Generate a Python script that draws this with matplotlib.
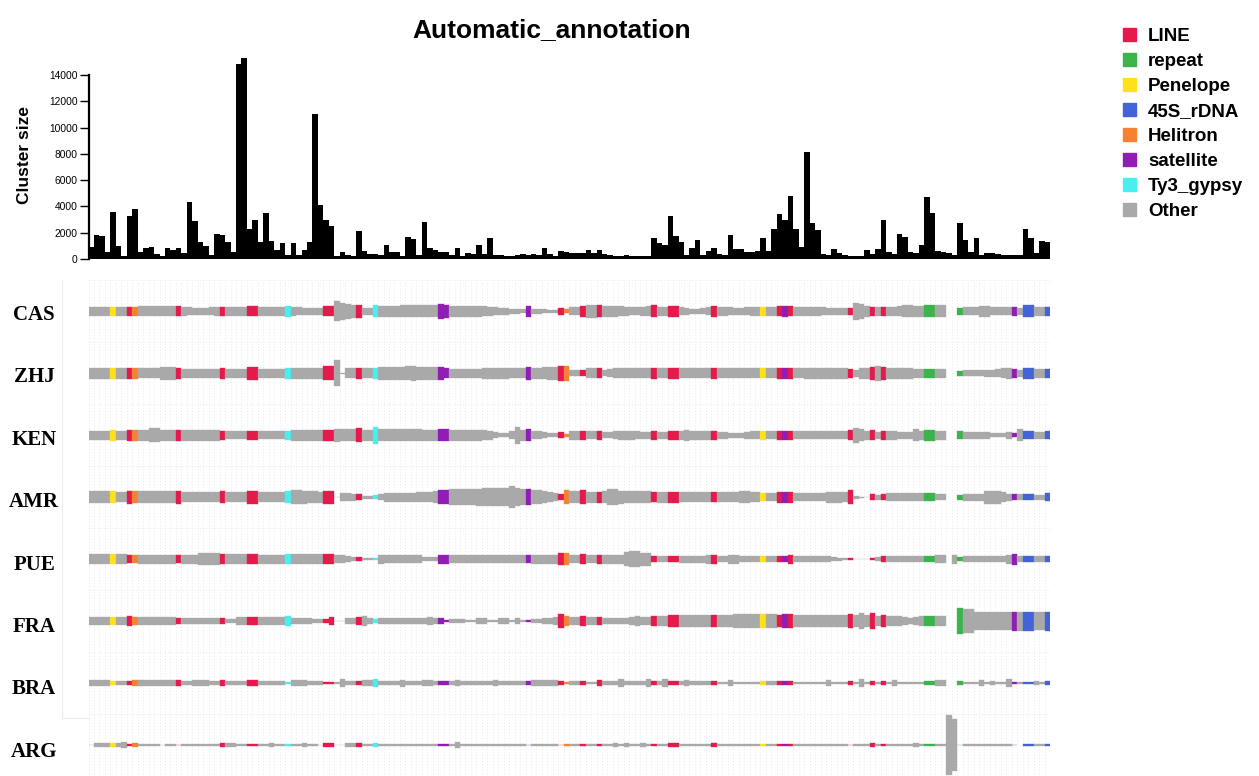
import numpy as np
import matplotlib
matplotlib.use("Agg")
import matplotlib.pyplot as plt
from matplotlib.patches import Rectangle
from matplotlib.lines import Line2D
from matplotlib import font_manager

plt.rcParams["font.family"] = ["Liberation Sans", "DejaVu Sans"]

# Cluster size (top bar chart), one value per cluster
cluster_size = [
    900, 1850, 1750, 500, 3600, 1000, 250, 3300, 3800, 500,
    850, 950, 350, 250, 800, 700, 800, 450, 4300, 2900,
    1300, 1000, 300, 1900, 1800, 1300, 550, 14800, 15300, 2300,
    3000, 1300, 3500, 1400, 700, 1200, 300, 1200, 300, 700,
    1300, 11000, 4100, 3000, 2500, 250, 550, 300, 250, 2100,
    600, 400, 400, 300, 1100, 550, 550, 250, 1700, 1500,
    300, 2800, 800, 680, 530, 530, 330, 800, 250, 430,
    400, 1060, 380, 1620, 300, 300, 230, 230, 280, 355,
    300, 400, 280, 810, 350, 250, 580, 500, 450, 450,
    450, 660, 480, 710, 400, 280, 250, 250, 280, 250,
    250, 250, 250, 1600, 1220, 1040, 3270, 1720, 1270, 300,
    810, 1420, 280, 630, 840, 380, 300, 1830, 735, 735,
    560, 530, 630, 1620, 610, 2300, 3400, 2970, 4790, 2300,
    910, 8140, 2760, 2230, 355, 280, 790, 450, 300, 250,
    250, 250, 710, 380, 790, 2970, 500, 355, 1880, 1700,
    500, 480, 1090, 4720, 3530, 630, 560, 430, 300, 2740,
    1450, 530, 1570, 300, 450, 450, 400, 280, 280, 280,
    330, 2280, 1600, 480, 1340, 1290,
]

# annotation of clusters (everything not listed is "Other")
annot_cols = {
    "LINE": [7, 16, 24, 29, 30, 43, 44, 49, 86, 90, 93, 103, 106, 107, 114,
             126, 128, 139, 143, 145],
    "repeat": [153, 154, 159],
    "Penelope": [4, 123],
    "45S_rDNA": [171, 172, 175],
    "Helitron": [8, 87],
    "satellite": [64, 65, 80, 127, 169],
    "Ty3_gypsy": [36, 52],
}
class_colors = {
    "LINE": "#E6194B", "repeat": "#3CB44B", "Penelope": "#FFE119",
    "45S_rDNA": "#4363D8", "Helitron": "#F58231", "satellite": "#911EB4",
    "Ty3_gypsy": "#46F0F0", "Other": "#A9A9A9",
}

# relative abundance of each cluster per population (track thickness)
CAS = [
    9.5, 9.5, 9.5, 9.5, 9.5, 9.5, 9.5, 9.5, 9.5, 10,
    10, 10, 10, 10, 10, 10, 10, 9, 8, 7.5,
    7.5, 7.5, 8, 9, 9.5, 9.5, 9.5, 9.5, 9.5, 10,
    10, 9.5, 9.5, 9.5, 9.5, 9.5, 10.7, 9, 8, 7.5,
    7, 6.7, 7, 10, 10, 20, 17, 15, 12.7, 13,
    7, 7, 12, 10.7, 10.7, 11, 11.5, 12, 12, 12,
    12, 12, 12, 12, 14.7, 13.3, 11, 11, 11, 11,
    11, 11, 10, 9, 8, 7, 6.7, 5.5, 4.5, 4,
    10.7, 5, 4.5, 4, 3.5, 3.3, 6.7, 4, 8, 8,
    10.7, 13, 13, 12, 10.7, 10.7, 10.7, 10, 9, 8,
    8, 9, 10, 12, 9.5, 9.5, 10.7, 10.7, 8, 7,
    5.3, 5.3, 6, 8, 10.7, 9.5, 9, 8, 7, 7,
    8, 9, 9.5, 9.5, 9.5, 9.5, 10, 10.7, 10, 9.5,
    9.5, 9.5, 9.5, 9, 8, 7, 6.7, 6.7, 6.7, 6.7,
    17, 15, 10.7, 9.5, 9.5, 9.5, 9.5, 9.5, 10, 12,
    12, 10.7, 10.7, 12, 12, 12, 12, 0, 0, 6.7,
    8, 8, 8, 10.7, 10.7, 8, 8, 8, 8, 9.5,
    6.7, 12.5, 12, 9.5, 9.5, 9.5,
]
ZHJ = [
    10.7, 10.7, 10.7, 10.7, 10.7, 10.7, 10.7, 10.7, 10.7, 10,
    10, 10, 10, 12.7, 12.7, 12.7, 11, 9.3, 9.3, 9.3,
    9.3, 9.3, 9.3, 9.3, 10.7, 9.3, 9.3, 9.3, 9.3, 12.7,
    12.7, 9.3, 9.3, 9.3, 9.3, 9.3, 10.7, 11, 11, 11,
    11, 11, 11, 14, 14, 26, 0.6, 10, 10, 11,
    10, 10, 10.7, 12.7, 12.7, 12.7, 12.7, 12.7, 14, 15,
    13, 12.7, 12.7, 12.7, 12.7, 10, 8.7, 8.7, 8.7, 8.7,
    8.7, 8.7, 11, 11, 11, 11, 11, 10, 10, 10,
    12.7, 11, 11, 12, 13, 13, 15, 15, 6, 6,
    6, 10, 10, 10, 6, 8, 10, 10, 10, 10,
    10, 10, 10, 11, 10, 10, 11, 11, 10, 10,
    10, 10, 10, 10, 11, 10, 10, 10, 10, 10,
    10, 10, 10, 10, 10, 10, 11, 11, 11, 10,
    10, 11, 11, 11, 11, 11, 11, 11, 11, 8.7,
    7.3, 11, 11, 12.7, 14.7, 12.7, 11, 11, 11, 11,
    11, 8.7, 8.7, 8.7, 8.7, 8.7, 8.7, 0, 0, 4.7,
    6, 6, 6, 6, 6.7, 7.3, 8, 10, 10.7, 8.7,
    7.3, 11, 11, 8.7, 8.7, 8.7,
]
KEN = [
    9.2, 9.2, 9.2, 9.2, 10.7, 9.2, 9.2, 10.7, 10.7, 10.7,
    10.7, 13.8, 13.8, 10.7, 10.7, 10.7, 10.7, 10.7, 10.7, 10.7,
    10.7, 10.7, 10.7, 10.7, 9.2, 7.7, 7.7, 7.7, 7.7, 9.2,
    9.2, 7.7, 7.7, 7.7, 7.7, 7.7, 9.2, 10.7, 10.7, 10.7,
    10.7, 10.7, 10.7, 10.7, 10.7, 13, 12.2, 12.2, 12.2, 13.8,
    10.7, 10.7, 16.8, 12.2, 12.2, 12.2, 12.2, 12.2, 12.2, 12.2,
    12.2, 10.7, 10.7, 10.7, 11.5, 11.5, 10.7, 10.7, 10.7, 10.7,
    10.7, 10.7, 10, 9, 6, 4.6, 4.6, 8, 16.8, 10.7,
    12.2, 7.7, 7.7, 6, 4.6, 4.6, 6, 3, 9.2, 9.2,
    9.2, 7.7, 7.7, 9.2, 6, 6, 8, 9.2, 9.2, 9.2,
    8, 6.7, 6.7, 9.3, 6.7, 6.7, 9.3, 9.3, 9.3, 10.7,
    9.3, 9.3, 9.3, 9.3, 9.3, 6.7, 6.7, 5.3, 5.3, 5.3,
    6.7, 8, 8, 9.3, 8, 8, 9.3, 9.3, 9.3, 8,
    8, 8, 8, 8, 8, 8, 8, 8, 8, 10,
    14.7, 12, 9.3, 10, 6.7, 9.3, 9.3, 9.3, 6.7, 6.7,
    6.7, 12, 9.3, 10.7, 10.7, 8.7, 8.7, 0, 0, 8,
    6.7, 6.7, 6.7, 6.7, 6.7, 4, 4, 4, 6.7, 4,
    12, 8, 8, 6.7, 6.7, 8,
]
AMR = [
    11.5, 11.5, 11.5, 11.5, 11.5, 10, 10, 13, 11.5, 11.5,
    11.5, 11.5, 11.5, 11.5, 11.5, 11.5, 13, 10, 10, 10,
    10, 10, 10, 10, 11.5, 10, 10, 10, 10, 13,
    13, 10, 10, 10, 10, 10, 11.5, 13.8, 13.8, 13,
    12, 11.5, 11, 13, 13, 0.6, 8.4, 8.4, 7, 6.1,
    3, 3, 4.6, 6, 9.2, 9.2, 9.2, 9.2, 9.2, 9.2,
    10, 10, 10.7, 11.5, 13.8, 13.8, 16, 16, 16, 16,
    16, 16.8, 17.6, 17.6, 17.6, 17.6, 18, 22, 18, 16,
    16, 13.8, 13.8, 12, 10, 8.4, 6, 13.8, 11.5, 11.5,
    13.8, 11, 11, 11, 11.5, 16, 16, 13, 11.5, 11.5,
    11.5, 11.5, 11.5, 10, 11.3, 11.3, 11.3, 11.3, 10, 10,
    10, 10, 10, 10, 10, 10, 10, 10, 10, 12.7,
    12.7, 10, 10, 8, 8.7, 8.7, 11.3, 11.3, 11.3, 8.7,
    8.7, 8.7, 8.7, 8.7, 8.7, 11.3, 11.3, 11.3, 10, 14,
    3, 1, 0.6, 6, 4.7, 6.7, 8, 8, 8, 8,
    8, 8, 8, 8, 8, 6, 6, 0, 0, 4.7,
    7.3, 7.3, 7.3, 7.3, 13.3, 13.3, 13.3, 10, 7.3, 6,
    6, 6, 6, 4.7, 4.7, 8.7,
]
PUE = [
    10.7, 10.7, 10.7, 10.7, 10.7, 10.7, 10.7, 7.7, 7.7, 9.2,
    9.2, 9.2, 9.2, 9.2, 9.2, 9.2, 7.7, 9.2, 9.2, 9.2,
    11.5, 11.5, 11.5, 11.5, 10.7, 10.7, 10.7, 10.7, 10.7, 10.7,
    10.7, 9.2, 9.2, 9.2, 9.2, 9.2, 10.7, 10.7, 10.7, 10.7,
    10.7, 10.7, 10.7, 10.7, 10.7, 7.7, 7.7, 6, 4.6, 4.6,
    1.5, 1.5, 1.5, 9.2, 7.7, 7.7, 7.7, 7.7, 7.7, 7.7,
    7.7, 4.6, 4.6, 4.6, 9.2, 9.2, 7.7, 7.7, 8.5, 8.5,
    7.7, 7.7, 7.7, 8.5, 8.5, 7.7, 7.7, 7.7, 8.5, 7.7,
    7.7, 9.2, 9.2, 9.2, 9.2, 9.2, 11.5, 11.5, 7.7, 7.7,
    10.7, 7.7, 7.7, 9.2, 9.2, 9.2, 9.2, 9.2, 14, 16.8,
    16.8, 13.3, 13.3, 6.7, 5.3, 5.3, 6.7, 6.7, 7.3, 7.3,
    7.3, 7.3, 7.3, 9.3, 9.3, 6.7, 6.7, 9.3, 9.3, 6.7,
    6.7, 6.7, 6.7, 6.7, 6.7, 6.7, 6.7, 6.7, 9.3, 6.7,
    6.7, 6.7, 6.7, 6.7, 6, 5.3, 4, 3, 2.7, 2.7,
    0.6, 0.6, 0.6, 2.7, 4, 6.7, 6.7, 6.7, 6.7, 6.7,
    6.7, 6.7, 6.7, 6.7, 6.7, 8, 8, 0, 9.3, 4,
    5.3, 5.3, 5.3, 5.3, 5.3, 5.3, 5.3, 5.3, 9.3, 11.3,
    5.3, 5.3, 5.3, 5.3, 5.3, 6.7,
]
FRA = [
    7.3, 7.3, 7.3, 7.3, 7.3, 7.3, 7.3, 10, 7.3, 7.3,
    7.3, 7.3, 7.3, 7.3, 7.3, 7.3, 6, 6, 6, 6,
    6, 6, 6, 6, 6, 4.7, 4.7, 8, 8, 8.7,
    8.7, 7.3, 7.3, 7.3, 7.3, 7.3, 10, 6, 6, 6,
    5.3, 4.7, 4.7, 4.7, 8.7, 0.6, 0.6, 5.3, 5.3, 8.7,
    10, 5.3, 4.7, 5.3, 5.3, 5.3, 5.3, 5.3, 5.3, 5.3,
    5.3, 5.3, 8.7, 5.3, 6, 1.3, 4, 4, 4, 2.7,
    2.7, 6.7, 6.7, 2.7, 2.7, 6.7, 6.7, 2.7, 5.3, 1.3,
    1.3, 4, 4, 5.3, 6.7, 8, 14, 10, 8, 8,
    10, 8, 8, 8.7, 6.7, 6.7, 6.7, 6.7, 6.7, 8,
    10.7, 8, 8, 10, 10, 10, 12, 12, 11.3, 11.3,
    11.3, 11.3, 11.3, 11.3, 12, 12.7, 12.7, 12.7, 13.3, 13.3,
    14, 14.7, 14.7, 13.3, 13.3, 13.3, 12, 13.3, 14.7, 12,
    12, 11.3, 11.3, 11.3, 11.3, 11.3, 11.3, 11.3, 11.3, 13.3,
    11.3, 16, 11.3, 16, 10, 12, 10.7, 10.7, 9.3, 8,
    6.7, 8, 10, 10, 10, 9.3, 9.3, 0, 0, 27,
    24.7, 24.7, 18.7, 18.7, 18.7, 18.7, 18.7, 18.7, 18.7, 19.3,
    19.3, 19.3, 19.3, 18, 18, 19.3,
]
BRA = [
    5.3, 5.3, 5.3, 5.3, 4.7, 4, 4, 4, 5.3, 5.3,
    5.3, 5.3, 5.3, 5.3, 5.3, 5.3, 5.3, 4, 4, 5.3,
    5.3, 5.3, 4, 4, 5.3, 4, 4, 4, 4, 5.3,
    5.3, 4, 4, 4, 4, 4, 2.7, 5.3, 5.3, 5.3,
    4, 4, 4, 2.7, 2.7, 2.7, 8, 4, 4, 4,
    5.3, 5.3, 8, 4, 4, 4, 4, 7, 4, 4,
    4, 6.7, 6.7, 4, 3.3, 3.3, 4, 6, 4, 4,
    4, 4, 4, 4, 5.3, 4, 4, 4, 4, 4,
    4.7, 5.3, 5.3, 6.7, 5.3, 6.7, 3.3, 2.7, 4, 4,
    4.7, 2.7, 2.7, 6, 4, 4, 4, 7.3, 4, 4,
    4, 4, 7.3, 3.3, 4, 7.3, 4.7, 4.7, 4, 6,
    4, 4, 4, 4, 3.3, 2.7, 2.7, 5.3, 2.7, 2.7,
    2.7, 2.7, 2.7, 4.7, 3.3, 3.3, 3.3, 4.7, 3.3, 2.7,
    2.7, 2.7, 2.7, 2.7, 2.7, 6.7, 2.7, 2.7, 2.7, 4.7,
    2.7, 7.3, 2.7, 4.7, 2.7, 4.7, 2.7, 6, 2.7, 2.7,
    2.7, 2.7, 2.7, 3.3, 3.3, 6, 6, 0, 0, 3.3,
    2, 2, 2, 6, 2, 3.3, 2, 2, 7.3, 2,
    2, 2, 2, 4.7, 2, 3.3,
]
ARG = [
    0.7, 3.3, 3.3, 3.3, 3.3, 3.3, 6, 2, 3.3, 2,
    2, 2, 2, 0.6, 2, 2, 0.7, 2, 2, 2,
    2, 2, 2, 2, 3.3, 3.3, 3.3, 2, 2, 2,
    2, 2, 2, 3.3, 2, 2, 2, 2, 2, 3.3,
    2, 2, 0.6, 3.3, 3.3, 0.6, 0.6, 3.3, 3.3, 3.3,
    2, 2, 3.3, 2, 2, 2, 2, 2, 2, 2,
    2, 2, 2, 2, 2, 2, 2, 6, 2, 2,
    2, 2, 2, 2, 2, 2, 2, 2, 2, 2,
    0.7, 2, 2, 2, 2, 2, 0.7, 2, 2, 2,
    2, 2, 2, 2, 2, 2, 3.3, 2, 3.3, 2,
    2, 4.7, 2, 2, 2, 2, 3.3, 3.3, 2, 2,
    2, 2, 2, 2, 3.3, 2, 2, 2, 2, 2,
    2, 2, 2, 2, 2, 2, 2, 2, 2, 2,
    2, 2, 2, 2, 2, 2, 2, 2, 2, 0.7,
    2, 2, 2, 3.3, 2, 2, 2, 2, 2, 2,
    2, 4.7, 2, 2, 2, 2, 2, 60, 52, 0.7,
    2, 2, 2, 2, 2, 2, 2, 2, 2, 0.7,
    0, 2, 2, 2, 2, 2,
]
populations = ["CAS", "ZHJ", "KEN", "AMR", "PUE", "FRA", "BRA", "ARG"]
tracks = [CAS, ZHJ, KEN, AMR, PUE, FRA, BRA, ARG]
legend_order = ["LINE", "repeat", "Penelope", "45S_rDNA", "Helitron",
                "satellite", "Ty3_gypsy", "Other"]

n = len(cluster_size)
for t in tracks:
    assert len(t) == n

col_class = ["Other"] * n
for cls, idx in annot_cols.items():
    for i in idx:
        col_class[i] = cls
col_colors = np.array([class_colors[c] for c in col_class])

W, H = 1259, 776
fig = plt.figure(figsize=(W / 100, H / 100), dpi=100)


def px_axes(x0, y0, x1, y1):
    return fig.add_axes([x0 / W, 1 - y1 / H, (x1 - x0) / W, (y1 - y0) / H])


x = np.arange(n) + 0.5

# ---- top: cluster size bars
ax = px_axes(88.5, 55.3, 1050, 259)
ax.bar(x, cluster_size, width=1.0, color="black", linewidth=0)
ax.set_xlim(0, n)
ax.set_ylim(0, 15500)
for s in ["top", "right", "bottom"]:
    ax.spines[s].set_visible(False)
ax.spines["left"].set_linewidth(1.6)
ax.spines["left"].set_bounds(0, 14000)
ax.set_xticks([])
ax.set_yticks(np.arange(0, 14001, 2000))
ax.tick_params(axis="y", length=6.7, width=1.0, pad=1, labelsize=7.4,
               colors="black")

fig.text(25 / W, 1 - 155 / H, "Cluster size", rotation=90, ha="center",
         va="center", fontsize=12.5, fontweight="bold")

# title (condensed font if available)
try:
    font_manager.findfont(font_manager.FontProperties(
        family="Liberation Sans Narrow", weight="bold"), fallback_to_default=False)
    title_fam, title_size = ["Liberation Sans Narrow"], 23
except Exception:
    title_fam, title_size = ["Liberation Sans", "DejaVu Sans"], 19
fig.text(552 / W, 1 - 37.5 / H, "Automatic_annotation", ha="center",
         va="baseline", fontsize=title_size, fontweight="bold", family=title_fam)

# ---- legend
for k, name in enumerate(legend_order):
    yc = 34.5 + 25 * k
    fig.patches.append(Rectangle((1123 / W, 1 - (yc + 6.3) / H), 12.6 / W, 12.6 / H,
                                 transform=fig.transFigure,
                                 color=class_colors[name]))
    fig.text(1148 / W, 1 - (yc + 6.8) / H, name, ha="left", va="baseline",
             fontsize=13.5, fontweight="bold")

# ---- bottom: tracks
row_px = 62.4
top_px, bot_px = 280.3, 776
tr = px_axes(88.5, top_px, 1050, bot_px)
tr.set_xlim(0, n)
tr.set_ylim(-0.5 + (bot_px - top_px) / row_px, -0.5)
for r, vals in enumerate(tracks):
    h = np.array(vals, dtype=float) / row_px
    keep = h > 0
    tr.bar(x[keep], h[keep], width=1.0, bottom=r - h[keep] / 2,
           color=col_colors[keep], edgecolor=col_colors[keep], linewidth=0.25,
           zorder=3)
tr.set_xticks(np.arange(0, n + 1))
tr.set_yticks(np.arange(-0.5, len(tracks), 1.0))
tr.grid(True, color="#e2e2e2", linewidth=0.6, linestyle=(0, (1, 2.5)))
tr.set_axisbelow(True)
tr.tick_params(length=0, labelbottom=False, labelleft=False)
for s in tr.spines.values():
    s.set_visible(False)

for r, name in enumerate(populations):
    yc = 311.5 + row_px * r
    fig.text(34 / W, 1 - (yc + 8.5) / H, name, ha="center", va="baseline",
             fontsize=15, fontweight="bold",
             family=["Liberation Serif", "DejaVu Serif"])

# faint frame around the label column
fig.add_artist(Line2D([62 / W, 62 / W], [1 - 280 / H, 1 - 718 / H],
                      color="#ececec", linewidth=0.8))
fig.add_artist(Line2D([62 / W, 88.5 / W], [1 - 718 / H, 1 - 718 / H],
                      color="#ececec", linewidth=0.8))

fig.savefig("out.png", dpi=100)
